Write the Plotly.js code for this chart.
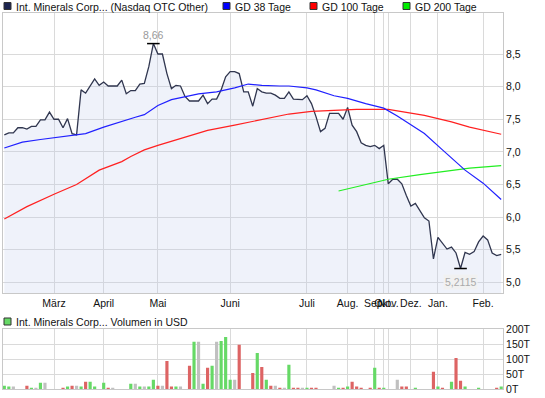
<!DOCTYPE html>
<html><head><meta charset="utf-8">
<script src="https://cdn.plot.ly/plotly-3.0.1.min.js"></script>
<style>html,body{margin:0;padding:0;background:#fff}#chart{width:545px;height:398px}</style>
</head><body><div id="chart"></div>
<script>
// ---- data ----
const monthIdx = [11, 22, 34, 50, 67, 76, 82, 84, 85, 90, 96, 106];
const monthLabels = ["März", "April", "Mai", "Juni", "Juli", "Aug.", "Sep.", "Okt.", "Nov.", "Dez.", "Jan.", "Feb."];

const price = [
 7.26, 7.29, 7.29, 7.37, 7.37, 7.35, 7.39, 7.39, 7.49, 7.49,
 7.61, 7.50, 7.50, 7.37, 7.51, 7.28, 7.26, 7.95, 7.90, 8.01,
 8.12, 8.02, 8.07, 8.01, 8.01, 8.01, 8.10, 7.89, 7.94, 7.94,
 8.04, 8.05, 8.31, 8.66, 8.50, 8.50, 8.20, 7.97, 8.02, 8.01,
 7.85, 7.78, 7.78, 7.78, 7.87, 7.74, 7.81, 7.81, 7.95, 8.15,
 8.23, 8.23, 8.20, 7.92, 7.92, 7.70, 7.97, 7.92, 7.90, 7.90,
 7.87, 7.82, 7.82, 7.92, 7.81, 7.80, 7.80, 7.86, 7.74, 7.54,
 7.31, 7.36, 7.59, 7.59, 7.59, 7.50, 7.68, 7.41, 7.31, 7.14,
 7.10, 7.08, 7.10, 7.05, 7.10, 6.51, 6.58, 6.58, 6.51, 6.33,
 6.17, 6.21, 6.10, 5.99, 5.94, 5.36, 5.69, 5.60, 5.51, 5.54,
 5.45, 5.2115, 5.46, 5.43, 5.47, 5.62, 5.71, 5.65, 5.45, 5.41,
 5.43
];

const gd38X = [0, 4, 8, 12, 16, 18, 22, 26, 29, 31, 34, 37, 40, 43, 47, 51, 54, 57, 61, 63, 67, 69, 73, 76, 80, 84, 87, 90, 93, 97, 102, 106, 110];
const gd38Y = [7.06, 7.15, 7.19, 7.23, 7.26, 7.28, 7.38, 7.47, 7.53, 7.57, 7.71, 7.80, 7.85, 7.89, 7.92, 7.98, 8.04, 8.02, 8.01, 8.01, 7.98, 7.95, 7.86, 7.82, 7.74, 7.67, 7.55, 7.41, 7.28, 7.03, 6.72, 6.52, 6.27];

const gd100X = [0, 5, 11, 16, 21, 26, 28, 31, 34, 40, 45, 51, 57, 59, 63, 68, 73, 78, 85, 88, 93, 99, 103, 110];
const gd100Y = [5.97, 6.16, 6.35, 6.50, 6.72, 6.85, 6.93, 7.03, 7.10, 7.23, 7.33, 7.41, 7.49, 7.52, 7.58, 7.62, 7.64, 7.65, 7.65, 7.62, 7.56, 7.46, 7.38, 7.27];

const gd200X = [74, 81, 85, 92, 98, 103, 110];
const gd200Y = [6.40, 6.52, 6.58, 6.65, 6.70, 6.75, 6.79];

// volume in thousand USD; direction: g = up, r = down, n = unchanged
const volume = [
 11, 8, 8, 0, 0, 11, 4, 4, 21, 21,
 0, 0, 0, 4, 8, 11, 11, 8, 24, 24,
 8, 0, 21, 4, 4, 0, 0, 0, 18, 18,
 8, 8, 8, 31, 11, 11, 94, 8, 8, 8,
 0, 78, 158, 158, 18, 71, 78, 158, 161, 174,
 31, 31, 148, 0, 0, 54, 121, 74, 31, 11,
 11, 4, 4, 81, 4, 4, 4, 4, 4, 4,
 0, 0, 0, 11, 4, 4, 8, 24, 8, 4,
 0, 4, 71, 4, 4, 0, 0, 31, 8, 8,
 0, 4, 0, 0, 0, 58, 8, 4, 0, 24,
 104, 28, 8, 0, 0, 4, 0, 0, 0, 4,
 8
];
const volDir = [
 'g','g','n','n','n','r','g','n','g','n',
 'n','n','n','r','g','r','n','g','r','g',
 'g','n','g','r','n','n','n','n','g','n',
 'g','n','g','g','r','n','r','r','g','n',
 'n','r','g','n','g','r','g','n','g','g',
 'g','n','r','n','n','r','g','r','g','r',
 'n','r','n','g','r','r','n','g','r','r',
 'n','n','n','n','g','r','g','r','r','r',
 'n','r','g','r','g','n','n','n','r','r',
 'n','g','n','n','n','r','g','r','n','g',
 'r','r','g','n','n','g','n','n','n','r',
 'g'
];
const volTicks = [0, 50, 100, 150, 200];
const volTickText = ["0T", "50T", "100T", "150T", "200T"];

// ---- chart ----
const idx = price.map((_, i) => i);
const dirColor = {g: '#66d966', r: '#dd6464', n: '#c0c0c0'};
const barColors = volDir.map(d => dirColor[d]);

let iMax = 0, iMin = 0;
price.forEach((v, i) => { if (v > price[iMax]) iMax = i; if (v < price[iMin]) iMin = i; });

const fmt = v => String(v).replace('.', ',');

const traces = [
  {x: idx, y: price, type: 'scatter', mode: 'lines', fill: 'tozeroy',
   fillcolor: 'rgba(191,203,235,0.25)', line: {color: '#30364f', width: 1.3}, xaxis: 'x', yaxis: 'y', hoverinfo: 'skip'},
  {x: gd100X, y: gd100Y, type: 'scatter', mode: 'lines', line: {color: '#ff2020', width: 1.2}, xaxis: 'x', yaxis: 'y'},
  {x: gd200X, y: gd200Y, type: 'scatter', mode: 'lines', line: {color: '#22ee22', width: 1.2}, xaxis: 'x', yaxis: 'y'},
  {x: gd38X, y: gd38Y, type: 'scatter', mode: 'lines', line: {color: '#2020ff', width: 1.2}, xaxis: 'x', yaxis: 'y'},
  {x: [iMax, iMin], y: [price[iMax], price[iMin]], type: 'scatter', mode: 'markers',
   marker: {symbol: 'line-ew-open', size: 9, color: '#000', line: {color: '#000', width: 1.5}}, xaxis: 'x', yaxis: 'y'},
  {x: idx, y: volume, type: 'bar', marker: {color: barColors, line: {width: 0}}, xaxis: 'x2', yaxis: 'y2'}
];

const L = 3, R = 42, T = 13, B = 9, W = 545, H = 398;
const px = x => (x - L) / (W - L - R);
const py = y => (H - B - y) / (H - T - B);

const mainBottom = 293, volTop = 329.3;
const gridC = '#dadada';
const FS = 10.5;

const legendItems = [
  {x: 4, color: '#1c2550', text: 'Int. Minerals Corp... (Nasdaq OTC Other)'},
  {x: 223, color: '#0000ff', text: 'GD 38 Tage'},
  {x: 310, color: '#ff0000', text: 'GD 100 Tage'},
  {x: 403, color: '#00ee00', text: 'GD 200 Tage'}
];
const shapes = [], annotations = [];
legendItems.forEach(it => {
  shapes.push({type: 'rect', xref: 'paper', yref: 'paper', x0: px(it.x), x1: px(it.x + 7), y0: py(9.5), y1: py(2.5),
    fillcolor: it.color, line: {color: '#333', width: 1}});
  annotations.push({xref: 'paper', yref: 'paper', x: px(it.x + 10), y: py(6.5), xanchor: 'left', yanchor: 'middle',
    text: it.text, showarrow: false, font: {size: FS, color: '#111'}});
});
shapes.push({type: 'rect', xref: 'paper', yref: 'paper', x0: px(4), x1: px(11), y0: py(325), y1: py(318),
  fillcolor: '#66d966', line: {color: '#333', width: 1}});
annotations.push({xref: 'paper', yref: 'paper', x: px(14), y: py(321.5), xanchor: 'left', yanchor: 'middle',
  text: 'Int. Minerals Corp... Volumen in USD', showarrow: false, font: {size: FS, color: '#111'}});

annotations.push({x: iMax, y: price[iMax], xref: 'x', yref: 'y', text: fmt(price[iMax]), showarrow: false,
  yanchor: 'bottom', yshift: 1, font: {size: FS, color: '#999'}});
annotations.push({x: iMin, y: price[iMin], xref: 'x', yref: 'y', text: fmt(price[iMin]), showarrow: false,
  yanchor: 'top', yshift: -5, bgcolor: '#f1f1f1', borderpad: 1, font: {size: FS, color: '#aaa'}});

const layout = {
  width: W, height: H,
  margin: {l: L, r: R, t: T, b: B, pad: 0},
  paper_bgcolor: '#fff', plot_bgcolor: '#fff',
  showlegend: false,
  separators: ',.',
  font: {family: 'Liberation Sans, Arial, sans-serif', size: FS, color: '#111'},
  bargap: 0.3,
  xaxis: {domain: [0, 1], anchor: 'y', range: [-0.29, 110.4], tickmode: 'array', tickvals: monthIdx, ticktext: monthLabels,
    tickangle: 0, showgrid: true, gridcolor: gridC, gridwidth: 1, zeroline: false, showline: true, linecolor: '#c8c8c8', mirror: true,
    ticks: '', tickfont: {size: FS, color: '#111'}, fixedrange: true},
  yaxis: {domain: [py(mainBottom), 1], anchor: 'x', range: [4.836, 9.129], side: 'right', tickmode: 'array',
    tickvals: [5, 5.5, 6, 6.5, 7, 7.5, 8, 8.5], tickformat: '.1f', showgrid: true, gridcolor: gridC, gridwidth: 1,
    zeroline: false, showline: true, linecolor: '#c8c8c8', mirror: true, ticks: '', tickfont: {size: FS, color: '#111'}},
  xaxis2: {domain: [0, 1], anchor: 'y2', matches: 'x', tickmode: 'array', tickvals: monthIdx, showticklabels: false,
    showgrid: true, gridcolor: gridC, gridwidth: 1, zeroline: false, showline: true, linecolor: '#c8c8c8', mirror: true, ticks: ''},
  yaxis2: {domain: [0, py(volTop)], anchor: 'x2', range: [0, 200], side: 'right', tickmode: 'array',
    tickvals: volTicks, ticktext: volTickText, showgrid: true, gridcolor: gridC, gridwidth: 1,
    zeroline: false, showline: true, linecolor: '#c8c8c8', mirror: true, ticks: '', tickfont: {size: FS, color: '#111'}},
  shapes: shapes,
  annotations: annotations
};

Plotly.newPlot('chart', traces, layout, {displayModeBar: false, staticPlot: true});
</script>
</body></html>
